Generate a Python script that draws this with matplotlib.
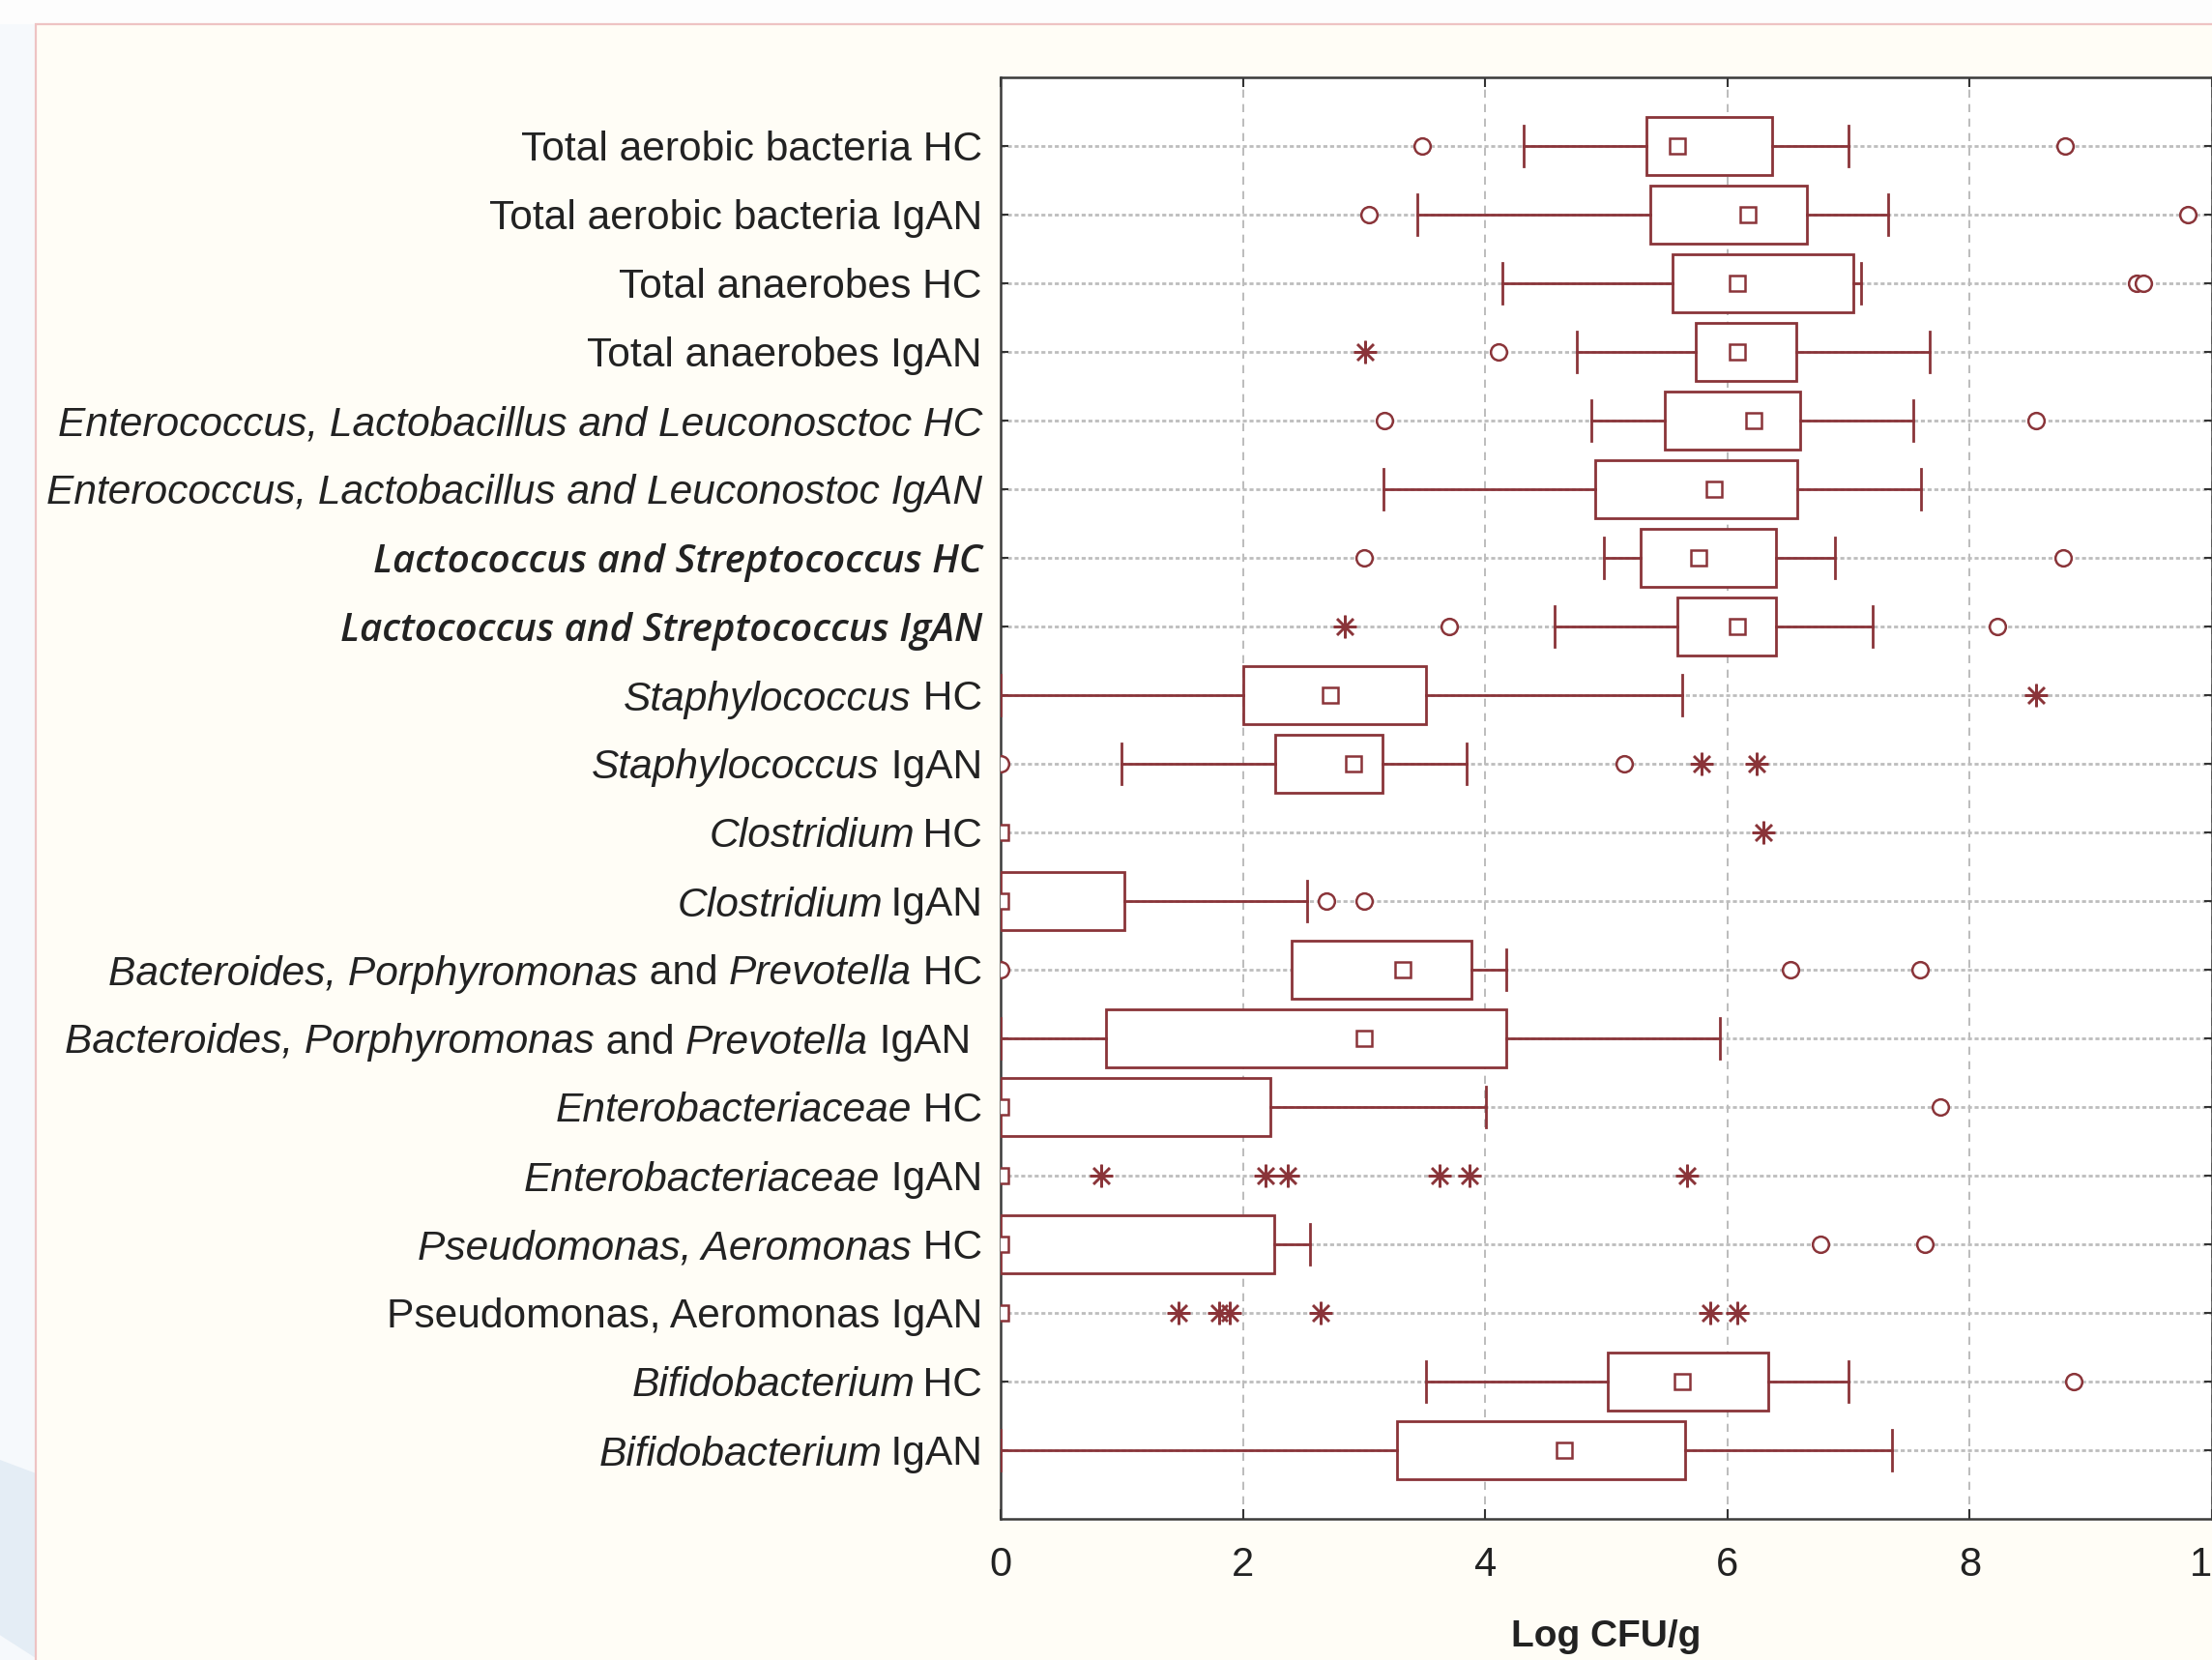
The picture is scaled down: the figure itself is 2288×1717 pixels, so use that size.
import matplotlib
matplotlib.use("Agg")
import matplotlib.pyplot as plt
from matplotlib.patches import Rectangle, Polygon
from matplotlib.transforms import offset_copy

# Statistica style box plot, Log CFU/g per group (HC vs IgAN)
# '*...*' = italic part, '**...**' = bold italic label
labels = [
    "Total aerobic bacteria HC",
    "Total aerobic bacteria IgAN",
    "Total anaerobes HC",
    "Total anaerobes IgAN",
    "*Enterococcus, Lactobacillus and Leuconosctoc HC*",
    "*Enterococcus, Lactobacillus and Leuconostoc IgAN*",
    "**Lactococcus and Streptococcus HC**",
    "**Lactococcus and Streptococcus IgAN**",
    "*Staphylococcus* HC",
    "*Staphylococcus* IgAN",
    "*Clostridium*\u2009HC",
    "*Clostridium*\u2009IgAN",
    "*Bacteroides, Porphyromonas* and *Prevotella* HC",
    "*Bacteroides, Porphyromonas* and *Prevotella* IgAN ",
    "*Enterobacteriaceae* HC",
    "*Enterobacteriaceae* IgAN",
    "*Pseudomonas, Aeromonas* HC",
    "Pseudomonas, Aeromonas IgAN",
    "*Bifidobacterium*\u2009HC",
    "*Bifidobacterium*\u2009IgAN",
]

whisk_lo = [4.32, 3.44, 4.14, 4.76, 4.88, 3.16, 4.98, 4.57, 0.0, 1.0,
            None, None, None, 0.0, None, None, None, None, 3.51, 0.0]
q1 = [5.33, 5.36, 5.55, 5.74, 5.48, 4.91, 5.28, 5.59, 2.0, 2.27,
      0.0, 0.0, 2.40, 0.87, 0.0, 0.0, 0.0, 0.0, 5.01, 3.27]
q3 = [6.37, 6.66, 7.04, 6.57, 6.60, 6.58, 6.40, 6.40, 3.51, 3.15,
      0.0, 1.02, 3.89, 4.17, 2.23, 0.0, 2.26, 0.0, 6.34, 5.65]
whisk_hi = [7.0, 7.33, 7.10, 7.67, 7.53, 7.60, 6.89, 7.20, 5.63, 3.85,
            None, 2.53, 4.17, 5.94, 4.01, None, 2.55, None, 7.0, 7.36]
medians = [5.59, 6.17, 6.08, 6.08, 6.22, 5.89, 5.76, 6.08, 2.72, 2.91,
           0.0, 0.0, 3.32, 3.0, 0.0, 0.0, 0.0, 0.0, 5.63, 4.65]
outliers = [[3.48, 8.79], [3.04, 9.80], [9.38, 9.43], [4.11], [3.17, 8.55],
            [], [3.0, 8.77], [3.70, 8.23], [], [0.0, 5.15],
            [], [2.69, 3.0], [0.0, 6.52, 7.59], [], [7.76],
            [], [6.77, 7.63], [], [8.86], []]
extremes = [[], [], [], [3.01], [], [], [], [2.84], [8.55], [5.79, 6.24],
            [6.30], [], [], [], [], [0.83, 2.19, 2.37, 3.62, 3.87, 5.67],
            [], [1.47, 1.80, 1.89, 2.64, 5.86, 6.08], [], []]

xticks = [0, 2, 4, 6, 8, 10]

col = "#8a3439"
W, H, DPI = 2288, 1717, 100

fig = plt.figure(figsize=(W / DPI, H / DPI), dpi=DPI, facecolor="#f6f9fc")

# slide background + cream panel
fig.patches.append(Polygon([[0, 1 - 1510 / H], [40 / W, 1 - 1525 / H], [40 / W, 0], [0, 0.015]],
                           closed=True, transform=fig.transFigure, facecolor="#e4edf5",
                           edgecolor="none", zorder=0))
fig.patches.append(Rectangle((0, 1 - 25 / H), 1, 25 / H, transform=fig.transFigure,
                             facecolor="#fdfdfd", edgecolor="none", zorder=0))
fig.patches.append(Rectangle((37 / W, -0.01), 1.0, 1 - 25 / H + 0.01, transform=fig.transFigure,
                             facecolor="#fffdf6", edgecolor="#eec3c3", lw=1.6, zorder=1))

ax = fig.add_axes([1035 / W, 1 - 1571 / H, (2288 - 1035) / W, (1571 - 80) / H])
ax.set_facecolor("white")
ax.set_zorder(2)

n = len(labels)
ys = list(range(1, n + 1))
ax.set_xlim(0, 10)
ax.set_ylim(n + 1, 0)

ax.set_yticks(ys)
ax.set_yticklabels([])
ax.set_xticks(xticks)
ax.set_xticklabels([str(t) for t in xticks], fontsize=30, family="Liberation Sans", color="#222222")
ax.tick_params(axis="x", direction="in", length=7, width=1.5, color="#333333", top=True, pad=20)
ax.tick_params(axis="y", direction="in", length=6, width=1.5, color="#333333", right=True)

ax.grid(axis="y", color="#bdbdbd", lw=2, ls=(0, (1.5, 1)), zorder=0)
ax.grid(axis="x", color="#b0b0b0", lw=1.2, ls=(0, (5, 4)), zorder=0)
ax.set_axisbelow(True)

for s in ax.spines.values():
    s.set_color("#3a3a3a")
    s.set_linewidth(1.8)

lw = 2.0
bh = 0.42
ch = 0.3
for i, y in enumerate(ys):
    if q3[i] > q1[i]:
        ax.add_patch(Rectangle((q1[i], y - bh), q3[i] - q1[i], 2 * bh, facecolor="white",
                               edgecolor=col, lw=lw, zorder=3))
    if whisk_lo[i] is not None and whisk_lo[i] < q1[i]:
        ax.plot([whisk_lo[i], q1[i]], [y, y], color=col, lw=lw, zorder=3)
        ax.plot([whisk_lo[i], whisk_lo[i]], [y - ch, y + ch], color=col, lw=lw, zorder=3)
    if whisk_hi[i] is not None and whisk_hi[i] > q3[i]:
        ax.plot([q3[i], whisk_hi[i]], [y, y], color=col, lw=lw, zorder=3)
        ax.plot([whisk_hi[i], whisk_hi[i]], [y - ch, y + ch], color=col, lw=lw, zorder=3)
    ax.plot([medians[i]], [y], marker="s", ms=12, mfc="white", mec=col, mew=1.8, ls="none", zorder=4)
    if outliers[i]:
        ax.plot(outliers[i], [y] * len(outliers[i]), marker="o", ms=12, mfc="white", mec=col,
                mew=1.8, ls="none", zorder=4)
    if extremes[i]:
        ax.plot(extremes[i], [y] * len(extremes[i]), marker=(8, 2, 0), ms=17, mec=col,
                mew=1.8, ls="none", zorder=4)

ax.set_xlabel("Log CFU/g", fontsize=28, fontweight="bold", family="Liberation Sans",
              color="#222222", labelpad=26)


# category labels with mixed italic, built right to left
def parse(lbl):
    if lbl.startswith("**"):
        return [(lbl.strip("*"), "bolditalic")]
    segs = []
    for k, part in enumerate(lbl.split("*")):
        if part:
            segs.append((part, "italic" if k % 2 else "normal"))
    return segs


fig.canvas.draw()
renderer = fig.canvas.get_renderer()
base = ax.get_yaxis_transform()
gap_pts = 19 * 72 / DPI
for i, y in enumerate(ys):
    off = gap_pts
    for text, style in reversed(parse(labels[i])):
        kw = dict(fontsize=30.6, family="Liberation Sans", color="#222222")
        if style == "italic":
            kw["style"] = "italic"
        elif style == "bolditalic":
            kw.update(style="italic", weight="semibold", family="Open Sans", fontsize=29)
        tr = offset_copy(base, fig=fig, x=-off, y=0, units="points")
        t = ax.text(0, y, text, transform=tr, ha="right", va="center_baseline",
                    clip_on=False, **kw)
        wpx = t.get_window_extent(renderer).width
        off += wpx * 72 / DPI

fig.savefig("out.png", dpi=DPI, facecolor=fig.get_facecolor())
